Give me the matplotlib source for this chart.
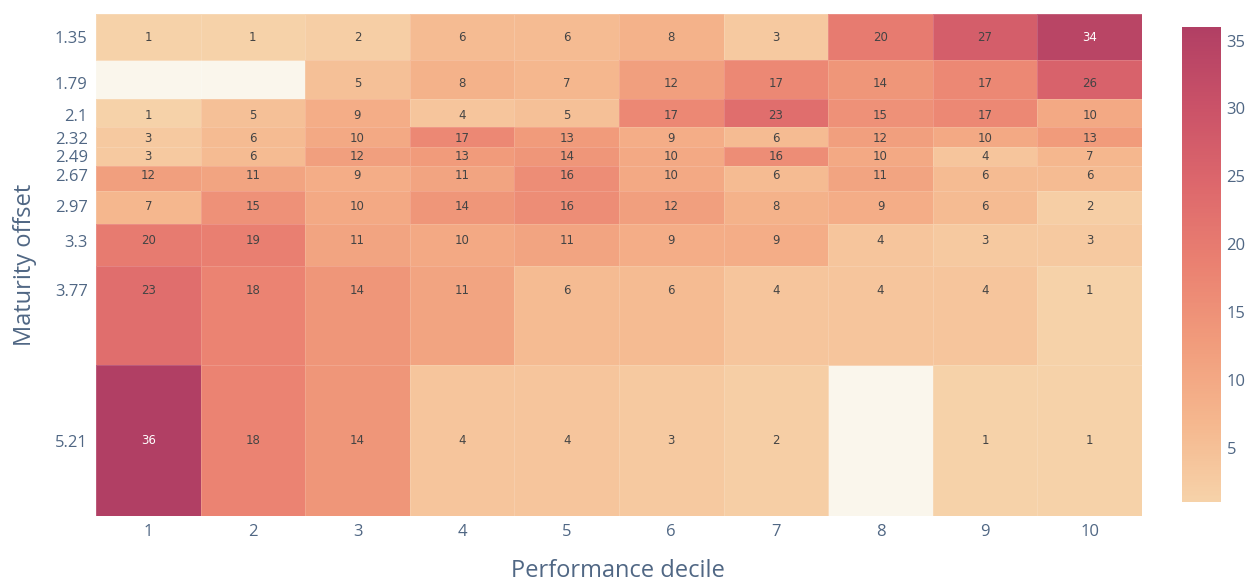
import matplotlib
matplotlib.use('Agg')
import matplotlib.pyplot as plt
from matplotlib.colors import LinearSegmentedColormap
import numpy as np

#DATA
################################################################################
deciles = [1, 2, 3, 4, 5, 6, 7, 8, 9, 10]
offsets = [1.35, 1.79, 2.1, 2.32, 2.49, 2.67, 2.97, 3.3, 3.77, 5.21]
offset_labels = ['1.35', '1.79', '2.1', '2.32', '2.49', '2.67', '2.97', '3.3', '3.77', '5.21']
nan = np.nan
counts = [
    [1, 1, 2, 6, 6, 8, 3, 20, 27, 34],
    [nan, nan, 5, 8, 7, 12, 17, 14, 17, 26],
    [1, 5, 9, 4, 5, 17, 23, 15, 17, 10],
    [3, 6, 10, 17, 13, 9, 6, 12, 10, 13],
    [3, 6, 12, 13, 14, 10, 16, 10, 4, 7],
    [12, 11, 9, 11, 16, 10, 6, 11, 6, 6],
    [7, 15, 10, 14, 16, 12, 8, 9, 6, 2],
    [20, 19, 11, 10, 11, 9, 9, 4, 3, 3],
    [23, 18, 14, 11, 6, 6, 4, 4, 4, 1],
    [36, 18, 14, 4, 4, 3, 2, nan, 1, 1],
]
cbar_ticks = [5, 10, 15, 20, 25, 30, 35]

#STYLE
################################################################################
#carto "Redor" scale
redor = ['#f6d2a9', '#f5b78e', '#f19c7c', '#ea8171', '#dd686c', '#ca5268', '#b13f64']
cmap = LinearSegmentedColormap.from_list('redor', redor)
TXT = '#506784'
W, H = 1248, 583

#cell edges at midpoints, like plotly does
def edges(v):
    v = np.asarray(v, dtype=float)
    mid = (v[:-1] + v[1:]) / 2
    return np.concatenate([[v[0] - (mid[0] - v[0])], mid, [v[-1] + (v[-1] - mid[-1])]])

Z = np.array(counts, dtype=float)

#PLOT
################################################################################
fig = plt.figure(figsize=(W / 100, H / 100), dpi=100)
ax = fig.add_axes([96 / W, (H - 516) / H, (1142 - 96) / W, (516 - 14) / H])
ax.set_facecolor('#faf6ec')

mesh = ax.pcolormesh(edges(deciles), edges(offsets), np.ma.masked_invalid(Z),
                     cmap=cmap, vmin=1, vmax=36, edgecolor=(1, 1, 1, 0.15), linewidth=0.5)
ax.set_ylim(edges(offsets)[-1], edges(offsets)[0])
ax.set_xlim(edges(deciles)[0], edges(deciles)[-1])

#cell labels
for i, y in enumerate(offsets):
    for j, x in enumerate(deciles):
        v = Z[i, j]
        if np.isnan(v):
            continue
        col = 'white' if v >= 30 else '#444444'
        ax.text(x, y, '%d' % v, ha='center', va='center', fontsize=8.5,
                color=col, family='DejaVu Sans')

ax.set_xticks(deciles)
ax.set_xticklabels([str(d) for d in deciles])
ax.set_yticks(offsets)
ax.set_yticklabels(offset_labels)
ax.tick_params(length=0, labelsize=12, colors=TXT, pad=6)
for lab in ax.get_xticklabels() + ax.get_yticklabels():
    lab.set_family('Open Sans')
for s in ax.spines.values():
    s.set_visible(False)

fig.text(618 / W, 1 - 571 / H, 'Performance decile', ha='center', va='center',
         fontsize=17, color=TXT, family='Open Sans')
fig.text(25 / W, 1 - 265 / H, 'Maturity offset', ha='center', va='center',
         rotation=90, fontsize=17, color=TXT, family='Open Sans')

#colorbar
cax = fig.add_axes([1182 / W, (H - 502) / H, 39 / W, (502 - 27) / H])
cb = fig.colorbar(mesh, cax=cax, ticks=cbar_ticks)
cb.outline.set_visible(False)
cax.tick_params(length=0, labelsize=12, colors=TXT, pad=4)
for lab in cax.get_yticklabels():
    lab.set_family('Open Sans')

plt.savefig('out.png', dpi=100)
